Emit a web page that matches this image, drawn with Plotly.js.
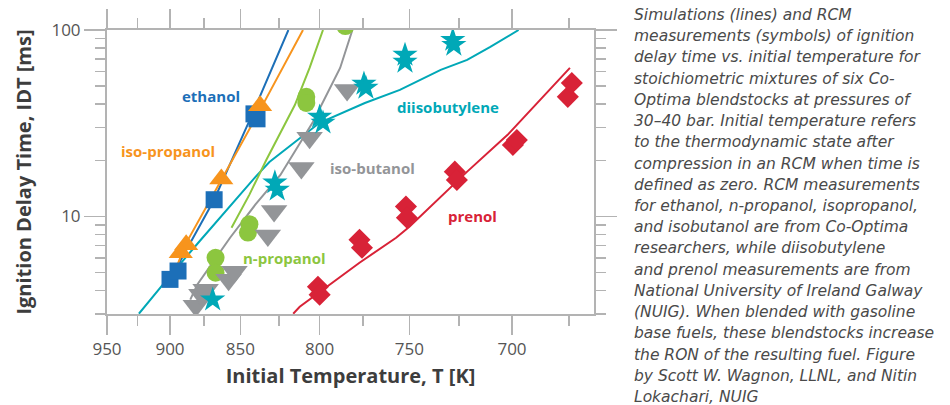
<!DOCTYPE html>
<html>
<head>
<meta charset="utf-8">
<script src="https://cdn.plot.ly/plotly-3.0.1.min.js"></script>
<style>html,body{margin:0;padding:0;background:#fff;}#chart{width:950px;height:405px;}</style>
</head>
<body>
<div id="chart"></div>
<script>
// ---- Data (temperature in K, ignition delay time in ms) ----
const ethanolExpT   = [900, 894, 868, 841, 839];
const ethanolExpIDT = [4.6, 5.1, 12.3, 35.5, 33.4];
const ethanolSimT   = [903, 885, 868, 842, 819];
const ethanolSimIDT = [4.2, 7.2, 12.3, 35.5, 100];

const isoPropExpT   = [837, 863, 888, 892];
const isoPropExpIDT = [39.2, 15.9, 7.05, 6.4];
const isoPropSimT   = [894, 888, 863, 837, 810];
const isoPropSimIDT = [5.6, 7.2, 15.7, 37.3, 100];

const nPropExpT   = [867, 867, 844, 845, 808, 808, 785];
const nPropExpIDT = [6.0, 5.0, 9.1, 8.2, 43.8, 40.6, 105];
const nPropSimT   = [856, 844, 833, 823, 815, 806, 798];
const nPropSimIDT = [8.7, 13.1, 20.1, 29.1, 39.6, 62.6, 100];

const isoButExpT   = [881, 877, 874, 858, 854, 832, 828, 811, 806, 784];
const isoButExpIDT = [3.32, 3.81, 4.05, 4.58, 5.06, 7.9, 10.7, 18.2, 26.4, 47.7];
const isoButSimT   = [885, 880, 857, 840, 824, 804, 788, 781];
const isoButSimIDT = [3.58, 4.31, 7.69, 11.6, 16.7, 32.1, 62.6, 100];

const dibExpT   = [869, 827.5, 826, 800, 798, 774.5, 773.4, 752.3, 752.3, 728, 727.5];
const dibExpIDT = [3.58, 15.2, 13.9, 34.2, 31.8, 51.4, 48.9, 73.5, 67.4, 88.4, 83.1];
const dibSimT   = [924, 900, 878, 857, 840, 831, 808, 800, 774, 755, 734, 721, 710, 697];
const dibSimIDT = [3.01, 4.81, 7.41, 11.4, 16.3, 19.6, 28.1, 31.8, 40.6, 47.7, 61.1, 69.1, 81.1, 100];

const prenolExpT   = [801, 800, 777, 775.6, 751.8, 751.3, 727, 726, 699.6, 697.8, 675.5, 673.8];
const prenolExpIDT = [4.2, 3.81, 7.5, 6.8, 11.3, 9.84, 17.4, 15.7, 24.2, 25.7, 43.8, 52.0];
const prenolSimT   = [816, 812, 777, 757, 750, 730, 721, 702, 674.6];
const prenolSimIDT = [3.01, 3.28, 5.65, 7.69, 8.81, 13.9, 17.4, 27.4, 62.6];

const xMajorT = [950, 900, 850, 800, 750, 700];
const xMinorT = [925, 875, 825, 775, 725, 675];
const yMajor = [10, 100];
const yMinor = [3, 4, 5, 6, 7, 8, 9, 20, 30, 40, 50, 60, 70, 80, 90];

const caption = [
 "Simulations (lines) and RCM",
 "measurements (symbols) of ignition",
 "delay time vs. initial temperature for",
 "stoichiometric mixtures of six Co-",
 "Optima blendstocks at pressures of",
 "30–40 bar. Initial temperature refers",
 "to the thermodynamic state after",
 "compression in an RCM when time is",
 "defined as zero. RCM measurements",
 "for ethanol, n-propanol, isopropanol,",
 "and isobutanol are from Co-Optima",
 "researchers, while diisobutylene",
 "and prenol measurements are from",
 "National University of Ireland Galway",
 "(NUIG). When blended with gasoline",
 "base fuels, these blendstocks increase",
 "the RON of the resulting fuel. Figure",
 "by Scott W. Wagnon, LLNL, and Nitin",
 "Lokachari, NUIG"
];

// ---- Styling ----
const C = {
  ethanol: '#1c6fb8', isoprop: '#f7941d', nprop: '#8cc63f',
  isobut: '#939598', dib: '#00a8b7', prenol: '#d82237'
};
const inv = a => a.map(t => 1000 / t);

function simLine(T, Y, color) {
  return {x: inv(T), y: Y, mode: 'lines', type: 'scatter',
          line: {color: color, width: 2}, hoverinfo: 'skip'};
}
function expPts(T, Y, color, symbol, size) {
  return {x: inv(T), y: Y, mode: 'markers', type: 'scatter',
          marker: {color: color, symbol: symbol, size: size, line: {width: 0}}};
}

const traces = [
  simLine(dibSimT, dibSimIDT, C.dib),
  simLine(isoButSimT, isoButSimIDT, C.isobut),
  simLine(nPropSimT, nPropSimIDT, C.nprop),
  simLine(ethanolSimT, ethanolSimIDT, C.ethanol),
  simLine(isoPropSimT, isoPropSimIDT, C.isoprop),
  simLine(prenolSimT, prenolSimIDT, C.prenol),
  expPts(nPropExpT, nPropExpIDT, C.nprop, 'circle', 18),
  expPts(isoButExpT, isoButExpIDT, C.isobut, 'triangle-down', 23),
  expPts(dibExpT, dibExpIDT, C.dib, 'star', 19),
  expPts(ethanolExpT, ethanolExpIDT, C.ethanol, 'square', 17),
  expPts(isoPropExpT, isoPropExpIDT, C.isoprop, 'triangle-up', 21),
  expPts(prenolExpT, prenolExpIDT, C.prenol, 'diamond', 17)
];

const axisCol = '#b3b3b3';
const tickFont = {family: 'Open Sans, sans-serif', size: 17, color: '#555'};
const titleFont = {family: 'Open Sans, sans-serif', size: 20, color: '#3d3d3d', weight: 'bold'};

function lab(text, px, py, color) {
  return {text: '<b>' + text + '</b>', xref: 'paper', yref: 'paper', x: px, y: py,
          xanchor: 'center', yanchor: 'middle',
          showarrow: false, font: {family: 'Open Sans, sans-serif', size: 15, color: color}};
}

// caption lines, one annotation each (plot area: 107..594 px wide, 30..314 px tall)
const captionAnn = caption.map((line, i) => ({
  text: '<i>' + line + '</i>', xref: 'paper', yref: 'paper',
  x: (632 - 107) / 487, y: (314 - (15 + i * 21.22)) / 284,
  xanchor: 'left', yanchor: 'middle', align: 'left', showarrow: false,
  font: {family: 'DejaVu Sans, sans-serif', size: 15.5, color: '#4a4a4a'}
}));

const layout = {
  width: 950, height: 405,
  margin: {l: 107, r: 356, t: 30, b: 91, pad: 0},
  paper_bgcolor: '#fff', plot_bgcolor: '#fff',
  showlegend: false,
  xaxis: {
    range: [1000 / 950, 1.5047], autorange: false,
    tickmode: 'array', tickvals: inv(xMajorT), ticktext: xMajorT.map(String),
    ticks: 'outside', ticklen: 19, tickwidth: 1.5, tickcolor: axisCol,
    minor: {tickmode: 'array', tickvals: inv(xMinorT), ticks: 'outside', ticklen: 10, tickwidth: 1.5, tickcolor: axisCol, showgrid: false},
    showline: true, linecolor: axisCol, linewidth: 2, mirror: 'ticks',
    showgrid: false, zeroline: false, tickfont: tickFont,
    title: {text: 'Initial Temperature, T [K]', font: titleFont, standoff: 10}
  },
  yaxis: {
    type: 'log', range: [Math.log10(3), 2], autorange: false,
    tickmode: 'array', tickvals: yMajor, ticktext: yMajor.map(String),
    ticks: 'outside', ticklen: 21, tickwidth: 1.5, tickcolor: axisCol,
    minor: {tickmode: 'array', tickvals: yMinor, ticks: 'outside', ticklen: 10, tickwidth: 1.5, tickcolor: axisCol, showgrid: false},
    showline: true, linecolor: axisCol, linewidth: 2, mirror: 'ticks',
    showgrid: false, zeroline: false, tickfont: tickFont,
    title: {text: 'Ignition Delay Time, IDT [ms]', font: titleFont, standoff: 14}
  },
  annotations: [
    lab('ethanol', 0.2136, 0.7676, C.ethanol),
    lab('iso-propanol', 0.1253, 0.5739, C.isoprop),
    lab('n-propanol', 0.3655, 0.1972, C.nprop),
    lab('iso-butanol', 0.5462, 0.5141, C.isobut),
    lab('diisobutylene', 0.7002, 0.7289, C.dib),
    lab('prenol', 0.7495, 0.3451, C.prenol)
  ].concat(captionAnn)
};

Plotly.newPlot('chart', traces, layout, {staticPlot: true, displayModeBar: false});
</script>
</body>
</html>
